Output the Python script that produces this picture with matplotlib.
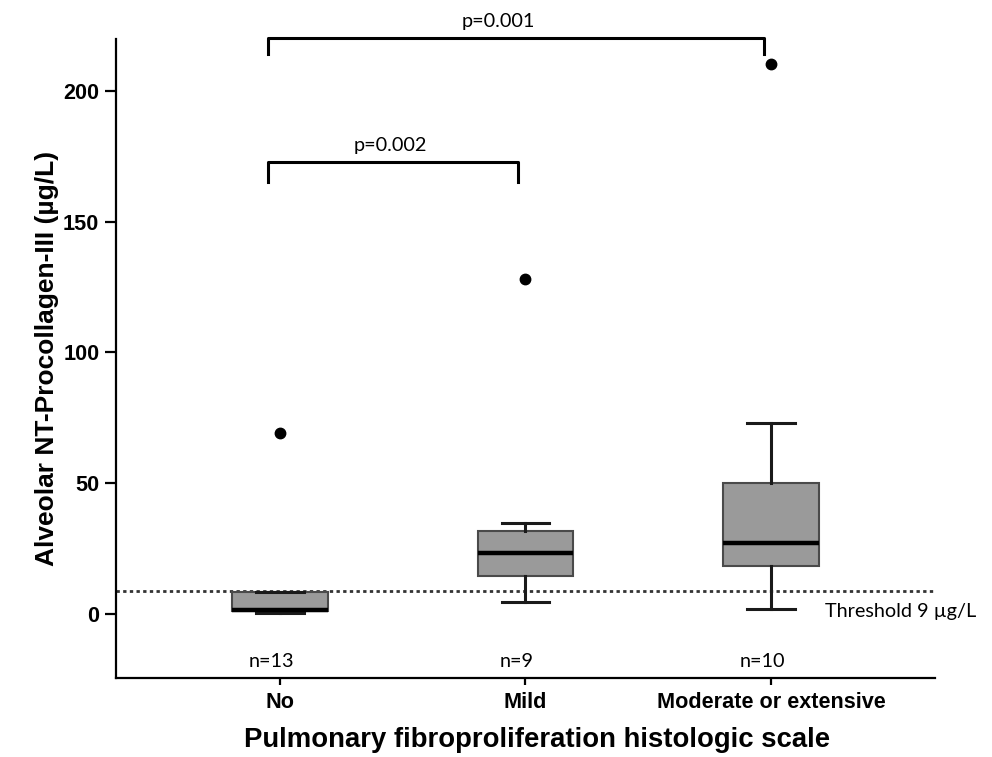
import matplotlib
matplotlib.use("Agg")
import matplotlib.pyplot as plt
from matplotlib import font_manager as fm

# ---------------- data ----------------
categories = ["No", "Mild", "Moderate or extensive"]
n_labels = ["n=13", "n=9", "n=10"]
whislo = [0.5, 4.7, 1.8]
q1 = [1.2, 14.5, 18.3]
med = [1.6, 23.2, 27.0]
q3 = [8.3, 31.8, 50.2]
whishi = [8.6, 34.9, 73.1]
outliers = [[69.2], [128.0], [210.1]]
threshold = 9
comparisons = [(0, 2, "p=0.001"), (0, 1, "p=0.002")]
bracket_top = [220.2, 172.9]
bracket_leg = [214.0, 165.2]
yticks = [0, 50, 100, 150, 200]

names = {f.name for f in fm.fontManager.ttflist}
bold_font = "Liberation Sans" if "Liberation Sans" in names else "DejaVu Sans"
narrow_font = "Liberation Sans Narrow" if "Liberation Sans Narrow" in names else bold_font
note_font = "Lato" if "Lato" in names else "DejaVu Sans"

fig = plt.figure(figsize=(9.92, 7.57), dpi=100)
ax = fig.add_axes([0.1169, 0.1048, 0.8256, 0.8437])

positions = list(range(1, len(categories) + 1))
stats = []
for i in range(len(categories)):
    stats.append(dict(med=med[i], q1=q1[i], q3=q3[i], whislo=whislo[i],
                      whishi=whishi[i], fliers=outliers[i], label=categories[i]))

ax.bxp(stats, positions=positions, widths=0.39, patch_artist=True,
       boxprops=dict(facecolor="#9a9a9a", edgecolor="#4a4a4a", linewidth=1.5),
       medianprops=dict(color="black", linewidth=3.2, solid_capstyle="butt"),
       whiskerprops=dict(color="#1a1a1a", linewidth=2.2),
       capprops=dict(color="#1a1a1a", linewidth=2.2),
       flierprops=dict(marker="o", markerfacecolor="black", markeredgecolor="black",
                       markersize=7.5))

ax.axhline(threshold, color="#333333", linestyle=(0, (1.2, 1.2)), linewidth=2.0, zorder=1)

ax.set_xlim(0.332, 3.668)
ax.set_ylim(-24.3, 219.8)
ax.set_yticks(yticks)
ax.set_xticks(positions)
ax.set_xticklabels(categories)

for s in ["top", "right"]:
    ax.spines[s].set_visible(False)
for s in ["left", "bottom"]:
    ax.spines[s].set_linewidth(1.6)
ax.tick_params(axis="y", length=8, width=1.6, labelsize=15.6, pad=4)
ax.tick_params(axis="x", length=5, width=1.6, labelsize=15.6, pad=5)
for lab in ax.get_xticklabels() + ax.get_yticklabels():
    lab.set_fontfamily(bold_font)
    lab.set_fontweight("bold")

ax.set_xlabel("Pulmonary fibroproliferation histologic scale", fontsize=19.8,
              fontweight="bold", family=bold_font)
ax.xaxis.set_label_coords(0.514, -0.078)
ax.set_ylabel("Alveolar NT-Procollagen-III (µg/L)", fontsize=19,
              fontweight="bold", family=narrow_font, labelpad=3)

# n labels
for i, t in enumerate(n_labels):
    ax.text(positions[i] - 0.035, -18.2, t, ha="center", va="center",
            fontsize=14.3, family=note_font)

# threshold label
ax.text(3.22, 0.9, "Threshold 9 µg/L", ha="left", va="center", fontsize=14.3,
        family=note_font)

# brackets
label_shift = [-0.07, -0.01]
for k, (a, b, p) in enumerate(comparisons):
    xa = positions[a] - 0.05
    xb = positions[b] - 0.03
    ax.plot([xa, xa, xb, xb], [bracket_leg[k], bracket_top[k], bracket_top[k], bracket_leg[k]],
            color="black", linewidth=2.2, clip_on=False, solid_joinstyle="round")
    ax.text((xa + xb) / 2 + label_shift[k], bracket_top[k] + 3.0, p, ha="center", va="bottom",
            fontsize=14.3, family=note_font, clip_on=False)

fig.savefig("out.png", dpi=100)
